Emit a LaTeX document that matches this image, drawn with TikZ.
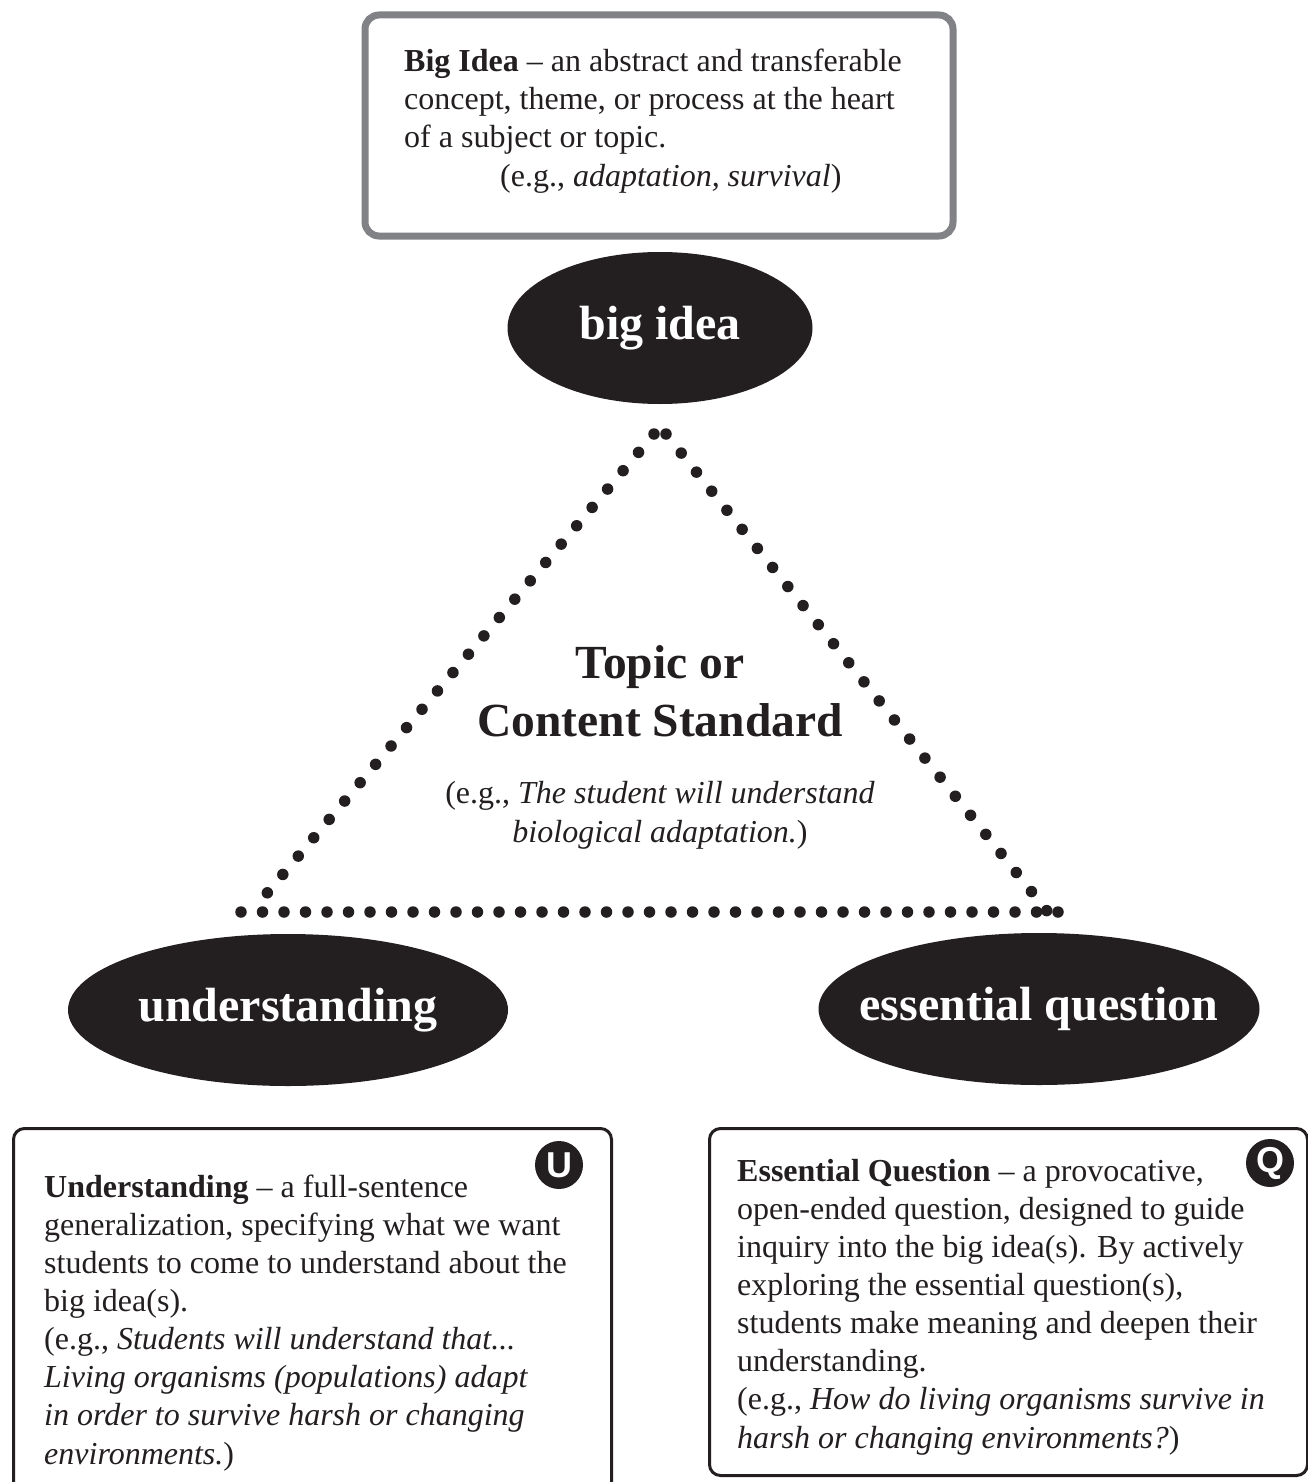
\documentclass[tikz,border=0pt]{standalone}
\usepackage{fontspec}
\setmainfont{Liberation Serif}
\newfontfamily\badgefont{Liberation Sans}
\usetikzlibrary{shapes.geometric}
\definecolor{ink}{HTML}{231F20}
\definecolor{frame}{HTML}{808285}
\tikzset{
  bubble/.style={ellipse, fill=ink, text=white, inner sep=0pt, inner xsep=-30pt,
    minimum height=152pt, font=\fontsize{48}{52}\selectfont\bfseries},
  body/.style={anchor=base west, align=left, inner sep=0pt, text=ink,
    font=\fontsize{32}{38.1}\selectfont},
  card/.style={draw=ink, line width=3pt, rounded corners=11pt, inner sep=0pt,
    anchor=north west},
  badge/.style={circle, fill=ink, text=white, minimum size=48pt, inner sep=0pt,
    font=\badgefont\bfseries\fontsize{36}{36}\selectfont},
  dotline/.style={ink, line width=11.5pt, line cap=round, dash pattern=on 0pt off #1},
}
\begin{document}
\begin{tikzpicture}[x=1pt, y=-1pt]
    \useasboundingbox (0,0) rectangle (1308,1482);
    \fill[white] (0,0) rectangle (1308,1482);

    % big idea box (text anchored at its last line)
    \node[draw=frame, line width=7pt, rounded corners=14pt, inner sep=0pt,
          anchor=north west, minimum width=588pt, minimum height=221pt]
          (ideabox) at (361.5,11.5) {};
    \node[body] (ideatext) at (404,186)
        {\textbf{Big Idea} -- an abstract and transferable\\
         concept, theme, or process at the heart\\
         of a subject or topic.\\
         \hspace*{96pt}(e.g., \textit{adaptation, survival})};

    % the three corners
    \node[bubble, minimum width=305pt] (bigidea) at (660,328) {big idea};
    \node[bubble, minimum width=440pt] (underst) at (288,1010) {understanding};
    \node[bubble, minimum width=441pt] (essq)    at (1039,1009) {essential question};

    % dotted triangle
    \coordinate (apexL) at (654,434);
    \coordinate (apexR) at (666,434);
    \coordinate (legL)  at (252,911);
    \coordinate (legR)  at (1047,911);
    \coordinate (baseL) at (241,912);
    \coordinate (baseR) at (1058,912);
    \draw[dotline=24pt]   (apexL) -- (legL);
    \draw[dotline=24.4pt] (apexR) -- (legR);
    \draw[dotline=21.5pt] (baseL) -- (baseR);

    % topic in the middle
    \node[anchor=base, align=center, inner sep=0pt, text=ink,
          font=\fontsize{47.5}{58}\selectfont\bfseries] (topic) at (660,736)
        {Topic or\\Content Standard};
    \node[body, anchor=base, align=center] (topicex) at (660,842)
        {(e.g., \textit{The student will understand}\\
         \textit{biological adaptation.})};

    % understanding card
    \node[card, minimum width=598pt, minimum height=380pt] (ubox) at (12,1127) {};
    \node[body] (utext) at (44,1464)
        {\textbf{Understanding} -- a full-sentence\\
         generalization, specifying what we want\\
         students to come to understand about the\\
         big idea(s).\\
         (e.g., \textit{Students will understand that...}\\
         \textit{Living organisms (populations) adapt}\\
         \textit{in order to survive harsh or changing}\\
         \textit{environments.})};
    \node[badge] (ubadge) at (559,1165) {U};

    % essential question card
    \node[card, minimum width=598pt, minimum height=347pt] (qbox) at (708,1127) {};
    \node[body] (qtext) at (737,1448)
        {\textbf{Essential Question} -- a provocative,\\
         open-ended question, designed to guide\\
         inquiry into the big idea(s). By actively\\
         exploring the essential question(s),\\
         students make meaning and deepen their\\
         understanding.\\
         (e.g., \textit{How do living organisms survive in}\\
         \textit{harsh or changing environments?})};
    \node[badge] (qbadge) at (1270,1163) {Q};
\end{tikzpicture}
\end{document}
